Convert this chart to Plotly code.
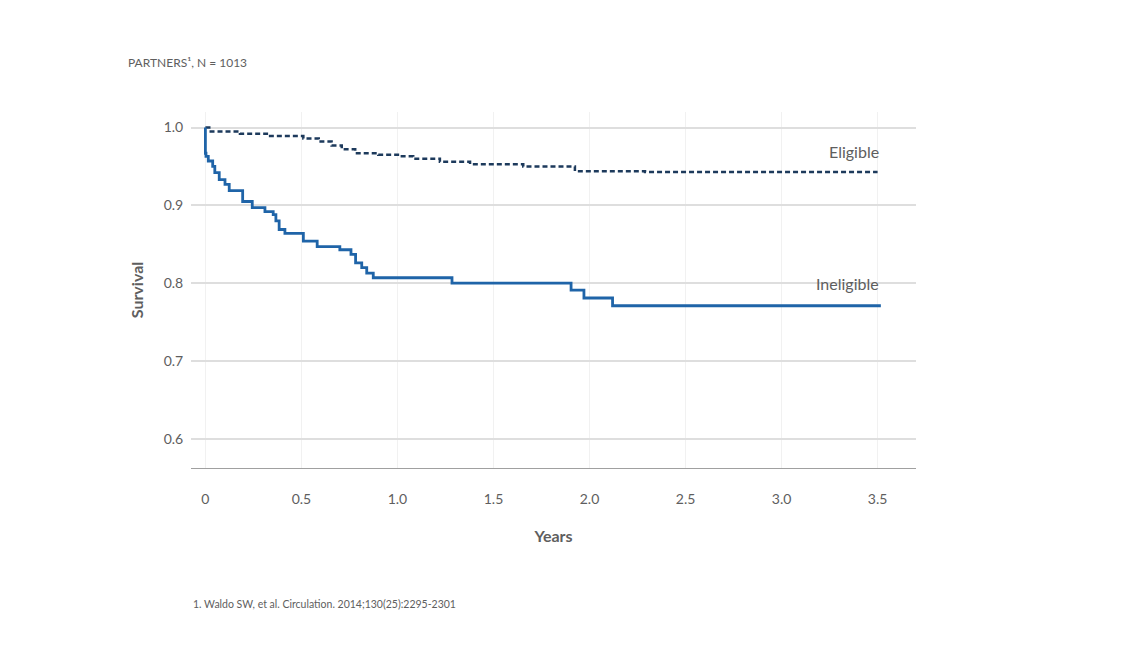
import plotly.graph_objects as go

# Ineligible (solid) Kaplan-Meier steps
inel_x = [0.0, 0.0, 0.003, 0.015, 0.038, 0.049, 0.072, 0.102, 0.124, 0.194, 0.244, 0.31, 0.353,
          0.367, 0.384, 0.414, 0.51, 0.582, 0.70, 0.758, 0.782, 0.814, 0.84, 0.874, 1.284,
          1.904, 1.971, 2.12, 3.517]
inel_y = [1.0, 0.967, 0.963, 0.957, 0.950, 0.942, 0.933, 0.927, 0.919, 0.905, 0.897, 0.892, 0.888,
          0.880, 0.869, 0.864, 0.854, 0.847, 0.843, 0.837, 0.826, 0.820, 0.813, 0.807, 0.800,
          0.791, 0.781, 0.771, 0.771]

# Eligible (dashed)
elig_x = [0.0, 0.02, 0.18, 0.32, 0.51, 0.59, 0.657, 0.71, 0.78, 0.90, 1.013, 1.082, 1.221,
          1.378, 1.655, 1.924, 2.289, 3.50]
elig_y = [1.0, 0.995, 0.992, 0.989, 0.986, 0.982, 0.977, 0.972, 0.967, 0.965, 0.963, 0.960, 0.956,
          0.953, 0.950, 0.944, 0.943, 0.943]

x_ticks = [0, 0.5, 1.0, 1.5, 2.0, 2.5, 3.0, 3.5]
x_ticktext = ["0", "0.5", "1.0", "1.5", "2.0", "2.5", "3.0", "3.5"]
y_ticks = [0.6, 0.7, 0.8, 0.9, 1.0]

FONT = "Lato"
GRAY = "#5e5e5e"

fig = go.Figure()
fig.add_trace(go.Scatter(x=elig_x, y=elig_y, mode="lines", line_shape="hv",
                         line=dict(color="#1d3a5c", width=2.5, dash="5px,3px"),
                         name="Eligible", showlegend=False))
fig.add_trace(go.Scatter(x=inel_x, y=inel_y, mode="lines", line_shape="hv",
                         line=dict(color="#1f64a8", width=2.8),
                         name="Ineligible", showlegend=False))

fig.add_annotation(x=3.52, y=0.969, text="Eligible", showarrow=False, xanchor="right",
                   yanchor="middle", font=dict(family=FONT, size=16, color=GRAY))
fig.add_annotation(x=3.52, y=0.800, text="Ineligible", showarrow=False, xanchor="right",
                   yanchor="middle", font=dict(family=FONT, size=16, color=GRAY))

fig.add_annotation(xref="paper", yref="paper", x=-0.0897, y=1.14, text="PARTNERS¹, N = 1013",
                   showarrow=False, xanchor="left", yanchor="middle",
                   font=dict(family=FONT, size=12, color=GRAY))
fig.add_annotation(xref="paper", yref="paper", x=-0.0005, y=-0.382,
                   text="1. Waldo SW, et al. Circulation. 2014;130(25):2295-2301",
                   showarrow=False, xanchor="left", yanchor="middle",
                   font=dict(family=FONT, size=10.5, color=GRAY))

fig.update_layout(
    width=1126, height=657,
    margin=dict(l=191, r=210, t=112, b=189),
    plot_bgcolor="white", paper_bgcolor="white",
    font=dict(family=FONT, color=GRAY),
    xaxis=dict(range=[-0.075, 3.70], tickvals=x_ticks, ticktext=x_ticktext,
               showgrid=True, gridcolor="#f1f1f1", gridwidth=1,
               showline=True, linecolor="#a0a0a0", linewidth=1.2,
               zeroline=False, ticks="outside", ticklen=18, tickcolor="rgba(0,0,0,0)",
               tickfont=dict(family=FONT, size=14, color=GRAY),
               title=dict(text="<b>Years</b>", font=dict(family=FONT, size=16, color=GRAY), standoff=24)),
    yaxis=dict(range=[0.5625, 1.02], tickvals=y_ticks, tickformat=".1f",
               showgrid=True, gridcolor="#dedede", gridwidth=1.5,
               zeroline=False, showline=False,
               ticks="outside", ticklen=4, tickcolor="rgba(0,0,0,0)",
               tickfont=dict(family=FONT, size=14, color=GRAY),
               title=dict(text="<b>Survival</b>", font=dict(family=FONT, size=16, color=GRAY), standoff=16)),
)

fig.write_html("out.html")
